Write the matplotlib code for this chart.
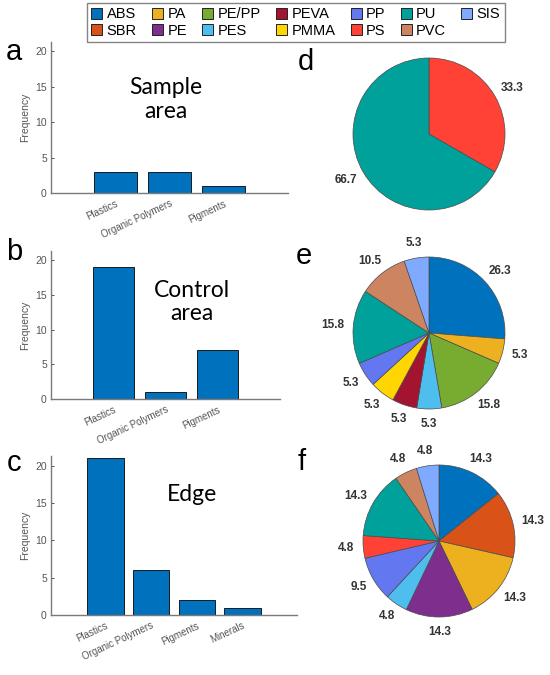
import matplotlib
matplotlib.use("Agg")
import matplotlib.pyplot as plt
from matplotlib.patches import Patch
import numpy as np

# ---------------- data ----------------
cats_a = ["Plastics", "Organic Polymers", "Pigments"]
freq_a = [3, 3, 1]
cats_b = ["Plastics", "Organic Polymers", "Pigments"]
freq_b = [19, 1, 7]
cats_c = ["Plastics", "Organic Polymers", "Pigments", "Minerals"]
freq_c = [21, 6, 2, 1]

polymers = ["ABS", "SBR", "PA", "PE", "PE/PP", "PES", "PEVA", "PMMA", "PP", "PS", "PU", "PVC", "SIS"]
poly_colors = {
    "ABS": "#0072BD", "SBR": "#D95319", "PA": "#EDB120", "PE": "#7E2F8E",
    "PE/PP": "#77AC30", "PES": "#4DBEEE", "PEVA": "#A2142F", "PMMA": "#FFD600",
    "PP": "#6277F0", "PS": "#FF4136", "PU": "#00A19B", "PVC": "#CC8560", "SIS": "#80AAFF",
}
legend_rows = [["ABS", "PA", "PE/PP", "PEVA", "PP", "PU", "SIS"],
               ["SBR", "PE", "PES", "PMMA", "PS", "PVC"]]

pie_d_names = ["PS", "PU"]
pie_d_vals = [33.3, 66.7]
pie_e_names = ["ABS", "PA", "PE/PP", "PES", "PEVA", "PMMA", "PP", "PU", "PVC", "SIS"]
pie_e_vals = [26.3, 5.3, 15.8, 5.3, 5.3, 5.3, 5.3, 15.8, 10.5, 5.3]
pie_f_names = ["ABS", "SBR", "PA", "PE", "PES", "PP", "PS", "PU", "PVC", "SIS"]
pie_f_vals = [14.3, 14.3, 14.3, 14.3, 4.8, 9.5, 4.8, 14.3, 4.8, 4.8]

# ---------------- figure ----------------
W, H = 550, 675
fig = plt.figure(figsize=(W / 100, H / 100), dpi=100)

def px_axes(x0, y0, x1, y1):
    """x0,y0 top-left pixel; x1,y1 bottom-right pixel"""
    return fig.add_axes([x0 / W, 1 - y1 / H, (x1 - x0) / W, (y1 - y0) / H])

GRAY = "#7a7a7a"
TXT = "#555555"
LETTER_FONT = ["Lato", "DejaVu Sans"]

def bar_panel(ax, cats, vals, note, note_xy):
    x = np.arange(1, len(cats) + 1)
    ax.bar(x, vals, width=0.8, color="#0072BD", edgecolor="#1a1a1a", linewidth=0.7, zorder=2)
    ax.set_xlim(-0.2, len(cats) + 1.2)
    ax.set_ylim(0, 21.3)
    ax.set_yticks([0, 5, 10, 15, 20])
    ax.set_xticks(x)
    ax.set_xticklabels(cats, rotation=25, ha="right", rotation_mode="anchor",
                       fontsize=7, color=TXT, family="Liberation Sans")
    for lab in ax.get_yticklabels():
        lab.set_fontsize(7.5)
        lab.set_color(TXT)
        lab.set_family("Liberation Sans")
    ax.tick_params(axis="both", direction="in", length=2.5, width=0.6, color="#333333", pad=3)
    ax.tick_params(axis="x", pad=4)
    for s in ["top", "right"]:
        ax.spines[s].set_visible(False)
    for s in ["left", "bottom"]:
        ax.spines[s].set_color(GRAY)
        ax.spines[s].set_linewidth(1.0)
    ax.set_ylabel("Frequency", fontsize=7.5, color=TXT, family="Liberation Sans", labelpad=4)
    ax.text(note_xy[0], note_xy[1], note, transform=ax.transAxes, ha="center", va="center",
            fontsize=16.5, family=LETTER_FONT, color="black", linespacing=1.15)
    ax.set_facecolor("none")

ax_a = px_axes(51, 42, 288, 193)
bar_panel(ax_a, cats_a, freq_a, "Sample\narea", (0.483, 0.62))
ax_b = px_axes(51, 251, 280, 399)
bar_panel(ax_b, cats_b, freq_b, "Control\narea", (0.617, 0.655))
ax_c = px_axes(51, 456, 297, 615)
bar_panel(ax_c, cats_c, freq_c, "Edge", (0.575, 0.76))

# panel letters
for letter, (px, py) in {"a": (14, 52), "b": (14, 252), "c": (14, 463),
                         "d": (306, 62), "e": (304, 256), "f": (302, 462)}.items():
    fig.text(px / W, 1 - py / H, letter, ha="center", va="center", fontsize=21,
             family=["Liberation Sans", "DejaVu Sans"], color="black")

# ---------------- pies ----------------
R_PX = 76
L = 1.6
labels_drawn = []

def pie_panel(cx, cy, names, vals):
    half = R_PX * L
    ax = px_axes(cx - half, cy - half, cx + half, cy + half)
    wedges, _ = ax.pie(vals, colors=[poly_colors[n] for n in names], startangle=90,
                       counterclock=False, radius=1.0,
                       wedgeprops=dict(edgecolor="#4a4a4a", linewidth=0.5))
    ax.set_xlim(-L, L)
    ax.set_ylim(-L, L)
    ax.set_aspect("equal")
    ax.axis("off")
    for w, v in zip(wedges, vals):
        ang = np.deg2rad((w.theta1 + w.theta2) / 2)
        c, s = np.cos(ang), np.sin(ang)
        t = ax.annotate(f"{v:.1f}", xy=(1.12 * c, 1.12 * s), xytext=(0, 0),
                        textcoords="offset pixels", ha="center", va="center",
                        fontsize=8.5, fontweight="bold", color="#333333",
                        family="Liberation Sans")
        labels_drawn.append((t, c, s))
    return ax

pie_panel(429, 134, pie_d_names, pie_d_vals)
pie_panel(429, 333, pie_e_names, pie_e_vals)
pie_panel(439, 541, pie_f_names, pie_f_vals)

# ---------------- legend ----------------
handles, labels = [], []
ncol = len(legend_rows[0])
for j in range(ncol):
    for row in legend_rows:
        if j < len(row):
            n = row[j]
            handles.append(Patch(facecolor=poly_colors[n], edgecolor="#222222", linewidth=0.7))
            labels.append(n)
leg = fig.legend(handles, labels, ncol=ncol, loc="upper left",
                 bbox_to_anchor=(87 / W, 1 - 3 / H), frameon=True, fancybox=False,
                 prop={"family": "Liberation Sans", "size": 10.5},
                 handlelength=0.75, handleheight=0.75, handletextpad=0.3,
                 columnspacing=1.05, labelspacing=0.15, borderpad=0.3, borderaxespad=0)
leg.get_frame().set_edgecolor("#666666")
leg.get_frame().set_linewidth(1.0)

# adjust pie label offsets so text sits outward from anchor point
fig.canvas.draw()
for t, c, s in labels_drawn:
    bb = t.get_window_extent()
    t.xyann = (bb.width / 2 * c, bb.height / 2 * s)

fig.savefig("out.png", dpi=100)
